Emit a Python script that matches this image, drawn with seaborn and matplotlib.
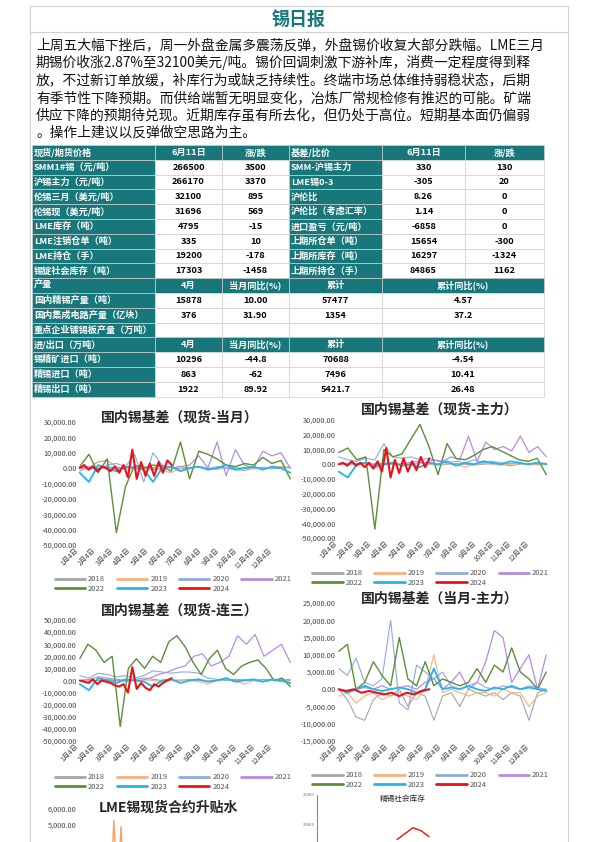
import numpy as np
import pandas as pd
import matplotlib
matplotlib.use("Agg")
import matplotlib.pyplot as plt
import seaborn as sns
from matplotlib.patches import Rectangle
from matplotlib.lines import Line2D

sns.set_style("white")
plt.rcParams['font.family'] = ['Noto Sans CJK SC', 'DejaVu Sans']
plt.rcParams['axes.unicode_minus'] = False

TEAL = "#17777a"
YEARS = ["2018", "2019", "2020", "2021", "2022", "2023", "2024"]
YCOL = {"2018": "#a5a5a5", "2019": "#f4b183", "2020": "#8faadc", "2021": "#b48ce6",
        "2022": "#5b8f3a", "2023": "#23b4ea", "2024": "#ee1111"}
YLW = {"2018": 0.8, "2019": 0.8, "2020": 0.8, "2021": 0.9, "2022": 1.0, "2023": 1.3, "2024": 1.5}
MONTH_LABELS = [f"{m}月4日" for m in range(1, 13)]

summary_lines = [
    "上周五大幅下挫后，周一外盘金属多震荡反弹，外盘锡价收复大部分跌幅。LME三月",
    "期锡价收涨2.87%至32100美元/吨。锡价回调刺激下游补库，消费一定程度得到释",
    "放，不过新订单放缓，补库行为或缺乏持续性。终端市场总体维持弱稳状态，后期",
    "有季节性下降预期。而供给端暂无明显变化，冶炼厂常规检修有推迟的可能。矿端",
    "供应下降的预期待兑现。近期库存虽有所去化，但仍处于高位。短期基本面仍偏弱",
    "。操作上建议以反弹做空思路为主。",
]

price_header = ["现货/期货价格", "6月11日", "涨/跌", "基差/比价", "6月11日", "涨/跌"]
price_rows = [
    ["SMM1#锡（元/吨）", "266500", "3500", "SMM-沪锡主力", "330", "130"],
    ["沪锡主力（元/吨）", "266170", "3370", "LME锡0-3", "-305", "20"],
    ["伦锡三月（美元/吨）", "32100", "895", "沪伦比", "8.26", "0"],
    ["伦锡现（美元/吨）", "31696", "569", "沪伦比（考虑汇率）", "1.14", "0"],
    ["LME库存（吨）", "4795", "-15", "进口盈亏（元/吨）", "-6858", "0"],
    ["LME注销仓单（吨）", "335", "10", "上期所仓单（吨）", "15654", "-300"],
    ["LME持仓（手）", "19200", "-178", "上期所库存（吨）", "16297", "-1324"],
    ["锡锭社会库存（吨）", "17303", "-1458", "上期所持仓（手）", "84865", "1162"],
]
prod_header = ["产量", "4月", "当月同比(%)", "累计", "累计同比(%)"]
prod_rows = [
    ["国内精锡产量（吨）", "15878", "10.00", "57477", "4.57"],
    ["国内集成电路产量（亿块）", "376", "31.90", "1354", "37.2"],
    ["重点企业镀锡板产量（万吨）", "", "", "", ""],
]
trade_header = ["进/出口（万吨）", "4月", "当月同比(%)", "累计", "累计同比(%)"]
trade_rows = [
    ["锡精矿进口（吨）", "10296", "-44.8", "70688", "-4.54"],
    ["精锡进口（吨）", "863", "-62", "7496", "10.41"],
    ["精锡出口（吨）", "1922", "89.92", "5421.7", "26.48"],
]

# basis series (yuan/ton)
c1 = {
    "2018": [0, 500, 4000, 5000, 1000, -500, 0, 1000, -1000, 0, 500, -500, 0, 1000, 0, -500, 0, -1000, -1500, 0, 500, 0, 1000, 0],
    "2019": [0, -500, 0, 500, 0, -1000, 0, 500, 0, -1500, -3000, 0, 500, 1000, 0, -500, 0, 500, 0, -500, 0, 500, 1000, 0],
    "2020": [-2000, 1000, -1000, 2000, 3000, 1000, 9000, -9000, 10000, 2000, 0, 1000, 0, 500, -500, 1000, 0, -500, 0, 500, 0, -500, 0, 1000],
    "2021": [0, 1000, -500, 1000, 0, 500, 1000, 0, 0, 2000, 0, 1000, 2000, 8000, 0, 17000, -5000, 12000, 2000, 0, 11000, 8000, 10000, 0],
    "2022": [1000, 9000, -3000, 6000, -42000, -12000, 2000, 0, 2000, 1000, -2000, 17000, -7000, 11000, 9000, 6000, 2000, 1000, 3000, 2000, 7000, 3000, 5000, -7000],
    "2023": [-3000, -9000, 2000, 0, -2000, 1000, 0, -1000, -9000, 0, 1000, -2000, 0, 1000, -1000, 0, 2000, -1000, 0, 1000, -1000, 1000, 0, -3000],
    "2024": [0, 2000, -1000, 1000, -2000, 1000, 0, -2000, 1000, -3000, 2000, -6000, 12000, -7000, 4000, -5000, 3000, -5000, 4000, -3000, 5000, 2000],
}
c2 = {
    "2018": [0, 500, 0, 1000, 0, -500, 0, 500, 0, 1000, 0, -500, 0, 500, 0, -500, 0, 500, 0, -1000, 0, 500, 0, 0],
    "2019": [0, -500, 500, 0, -1000, 0, 500, 0, -500, 1000, 0, -500, 500, 0, -2000, 0, 500, 0, -500, 0, 500, 0, -500, 0],
    "2020": [5000, 3000, 2000, 4000, 3000, 14000, 5000, 4000, 5000, 3000, 4000, 2000, 1000, 2000, 1000, 3000, 1000, 2000, 1000, 500, 1000, 0, 1000, 500],
    "2021": [0, 500, 0, 1000, 0, 500, 1000, 0, 1000, 2000, 1000, 3000, 2000, 5000, 3000, 19000, 2000, 15000, 10000, 12000, 9000, 19000, 8000, 12000, 5000],
    "2022": [8000, 11000, 3000, 5000, -44000, 10000, 5000, 7000, 17000, 27000, 12000, -7000, 14000, 4000, 3000, 6000, 10000, 12000, 9000, 6000, 3000, 2000, 4000, -7000],
    "2023": [-5000, -9000, 0, 1000, -2000, 0, 1000, -1000, 0, -2000, 1000, 0, 2000, -1000, 1000, 0, 2000, 1000, 0, 2000, 1000, 0, 1000, 0],
    "2024": [0, 1000, -1000, 2000, -1000, 1000, -2000, 1000, -3000, 2000, -5000, 11000, -9000, 3000, -6000, 4000, -5000, 2000, -4000, 5000, -2000, 4000],
}
c3 = {
    "2018": [0, 1000, 3000, 2000, 1000, 0, 1000, 2000, 1000, 0, 500, 0, 1000, 0, -500, 0, 1000, 0, 500, 0, -1000, 0, 500, 0],
    "2019": [0, -500, 0, 1000, 0, -1000, 0, 500, 0, -1000, 0, 500, 0, -1000, -3000, 0, 500, -500, -3000, 0, 500, 0, -1000, -2000],
    "2020": [4000, 2000, 6000, 5000, 3000, 4000, 2000, 4000, 8000, 7000, 6000, 7000, 7000, 6000, 2000, 1000, 0, 1000, 500, 0, 1000, 500, 0, 1000],
    "2021": [0, 500, 0, 1000, 0, 500, 1000, 0, 2000, 5000, 7000, 10000, 12000, 20000, 22000, 12000, 15000, 20000, 37000, 30000, 38000, 20000, 25000, 30000, 15000],
    "2022": [18000, 30000, 25000, 15000, 20000, -38000, 10000, 18000, 10000, 20000, 15000, 32000, 37000, 28000, 15000, 5000, 18000, 25000, 10000, 5000, 12000, 15000, 17000, 10000, 0, 2000, -5000],
    "2023": [-3000, -8000, 2000, 0, -2000, 1000, 0, -1000, -5000, 0, 1000, -2000, 0, 1000, -1000, 0, 2000, -1000, 0, 1000, -1000, 1000, 0, -2000],
    "2024": [0, -1000, -2000, 1000, -3000, 0, -1000, -2000, -4000, -5000, -3000, -10000, 11000, -7000, -2000, -6000, -8000, -3000, -5000, -2000, 0, 2000],
}
c4 = {
    "2018": [0, -3000, -8000, -9000, -3000, -1000, -2000, 0, -5000, -1000, -2000, -9000, -2000, -1000, -5000, 0, -1000, -2000, -1000, -3000, -1000, -2000, -9000, -1000, 0],
    "2019": [-2000, -1000, -4000, -2000, -1000, -3000, -2000, -1000, -2000, -3000, 0, 10000, -1000, 0, -1000, -2000, -1000, -1000, -2000, 0, -1000, -1000, -5000, -2000, -1000],
    "2020": [6000, 4000, 9000, 2000, 1000, 3000, 20000, -4000, -6000, 7000, 5000, 3000, 5000, 1000, 0, 1000, 2000, 500, 0, 1000, 500, 0, 1000, 500, 0],
    "2021": [0, -1000, 0, 500, 0, 1000, 0, 500, 1000, 0, 2000, 3000, 0, 2000, 5000, 0, 2000, 8000, 17000, 15000, 2000, 6000, 10000, 0, 10000],
    "2022": [11000, 13000, 0, 2000, 8000, 4000, 1000, 15000, 3000, 1000, 8000, 1000, 3000, 2000, 1000, 2000, 6000, 2000, 7000, 5000, 12000, 5000, 3000, 0, 5000],
    "2023": [0, -1000, 0, 1000, 0, -500, 0, 500, 0, -1000, 0, 6000, 0, 500, 0, 1000, 0, -500, 500, 0, 1000, 0, 500, 0, -500],
    "2024": [0, -500, 0, -1000, -500, -1000, -1500, -1000, -2000, -1000, -1500, -500, 0],
}
lme_spread = [0, 300, 5300, 800, 4900, 600, 200]
social_stock = [17500, 18500, 19500, 19000, 18000]

W, H = 595, 842
fig = plt.figure(figsize=(W / 100, H / 100), dpi=100)
bg = fig.add_axes([0, 0, 1, 1])
bg.set_xlim(0, W); bg.set_ylim(H, 0); bg.axis("off")
bg.set_zorder(5); bg.patch.set_visible(False)

# frame
bg.add_patch(Rectangle((30, 6), 538, 850, fill=False, ec="#d0d0d0", lw=0.8))
bg.plot([30, 568], [32, 32], color="#d0d0d0", lw=0.8)
bg.text(299, 19, "锡日报", color=TEAL, fontsize=13, fontweight="bold", ha="center", va="center")
for i, line in enumerate(summary_lines):
    bg.text(36, 45 + i * 17.6, line, fontsize=9.9, va="center", ha="left", color="#111")

# tables
top, rh = 145, 14.8
cols6 = [32, 155, 222, 289, 382, 465, 544]
cols5 = [32, 155, 222, 289, 382, 544]

def cell(x0, x1, y, txt, teal, left=False):
    bg.add_patch(Rectangle((x0, y), x1 - x0, rh, fc=TEAL if teal else "white", ec="#cfcfcf", lw=0.5))
    col = "white" if teal else "black"
    if left:
        bg.text(x0 + 2, y + rh / 2, txt, fontsize=6.6, fontweight="bold", color=col, va="center", ha="left")
    else:
        bg.text((x0 + x1) / 2, y + rh / 2, txt, fontsize=6.6, fontweight="bold", color=col, va="center", ha="center")

y = top
for j, t in enumerate(price_header):
    cell(cols6[j], cols6[j + 1], y, t, True, left=(j in (0, 3)))
y += rh
for row in price_rows:
    for j, t in enumerate(row):
        cell(cols6[j], cols6[j + 1], y, t, j in (0, 3), left=(j in (0, 3)))
    y += rh
for hdr, rows in ((prod_header, prod_rows), (trade_header, trade_rows)):
    for j, t in enumerate(hdr):
        cell(cols5[j], cols5[j + 1], y, t, True, left=(j == 0))
    y += rh
    for row in rows:
        for j, t in enumerate(row):
            cell(cols5[j], cols5[j + 1], y, t, j == 0, left=(j == 0))
        y += rh

def px_axes(x0, y0, x1, y1):
    ax = fig.add_axes([x0 / W, 1 - y1 / H, (x1 - x0) / W, (y1 - y0) / H])
    ax.patch.set_visible(False)
    return ax

LEG_ORDER = ["2018", "2022", "2019", "2023", "2020", "2024", "2021"]

def basis_chart(data, rect, ylim, step, title, title_xy, legend_y):
    ax = px_axes(*rect)
    for yr in YEARS:
        vals = data[yr]
        end = 11.9 if yr != "2024" else 5.2
        df = pd.DataFrame({"x": np.linspace(0, end, len(vals)), "v": vals})
        sns.lineplot(data=df, x="x", y="v", ax=ax, color=YCOL[yr], lw=YLW[yr], legend=False)
    ax.set_xlim(-0.1, 12)
    ax.set_ylim(*ylim)
    ticks = np.arange(ylim[0], ylim[1] + 1, step)
    ax.set_yticks(ticks)
    ax.set_yticklabels([f"{v:,.2f}" for v in ticks], fontsize=5.3, color="#444")
    ax.set_xticks(range(12))
    ax.set_xticklabels(MONTH_LABELS, rotation=45, ha="right", fontsize=5, color="#444")
    ax.tick_params(length=0, pad=1)
    ax.set_xlabel(""); ax.set_ylabel("")
    for s in ax.spines.values():
        s.set_visible(False)
    bg.text(title_xy[0], title_xy[1], title, fontsize=10, fontweight="bold", ha="center", va="center")
    handles = [Line2D([], [], color=YCOL[y], lw=2) for y in LEG_ORDER]
    fig.legend(handles, LEG_ORDER, loc="center", ncol=4, frameon=False, fontsize=5.5,
               labelcolor="#555", handlelength=4, columnspacing=1.5, handletextpad=0.4,
               labelspacing=0.2,
               bbox_to_anchor=((rect[0] + rect[2]) / 2 / W - 0.02, 1 - legend_y / H))
    return ax

basis_chart(c1, (78, 422, 292, 545), (-50000, 30000), 10000, "国内锡基差（现货-当月）", (180, 418), 584)
basis_chart(c2, (337, 420, 548, 538), (-50000, 30000), 10000, "国内锡基差（现货-主力）", (440, 410), 578)
basis_chart(c3, (78, 620, 292, 741), (-50000, 50000), 10000, "国内锡基差（现货-连三）", (180, 611), 782)
basis_chart(c4, (337, 603, 548, 741), (-15000, 25000), 5000, "国内锡基差（当月-主力）", (440, 599), 780)

# LME spread chart (partially visible)
ax5 = fig.add_axes([78 / W, -0.1, 215 / W, 1 - 815 / H + 0.1 + 0.012])
ax5.patch.set_visible(False)
sns.lineplot(x=np.arange(len(lme_spread)) + 8, y=lme_spread, ax=ax5, color="#f4a460", lw=1)
ax5.set_xlim(0, 60); ax5.set_ylim(-1000, 6200)
ax5.set_yticks([5000, 6000]); ax5.set_yticklabels(["5,000.00", "6,000.00"], fontsize=5.3, color="#444")
ax5.set_xticks([]); ax5.tick_params(length=0, pad=1)
for s in ax5.spines.values():
    s.set_visible(False)
bg.text(168, 808, "LME锡现货合约升贴水", fontsize=10, fontweight="bold", ha="center", va="center")

# social stock chart (partially visible)
ax6 = fig.add_axes([317 / W, -0.05, 240 / W, 1 - 795 / H + 0.05])
ax6.patch.set_visible(False)
sns.lineplot(x=np.arange(len(social_stock)) + 10, y=social_stock, ax=ax6, color="#ee1111", lw=1)
ax6.set_xlim(0, 30); ax6.set_ylim(10000, 25000)
ax6.set_yticks([20000, 25000]); ax6.set_yticklabels(["20000", "25000"], fontsize=3, color="#666")
ax6.set_xticks([]); ax6.tick_params(length=0, pad=2)
for k, s in ax6.spines.items():
    s.set_visible(k == "left")
ax6.spines["left"].set_color("#888")
bg.text(403, 799, "精锡社会库存", fontsize=5.5, ha="center", va="center")

fig.savefig("out.png", dpi=100)
